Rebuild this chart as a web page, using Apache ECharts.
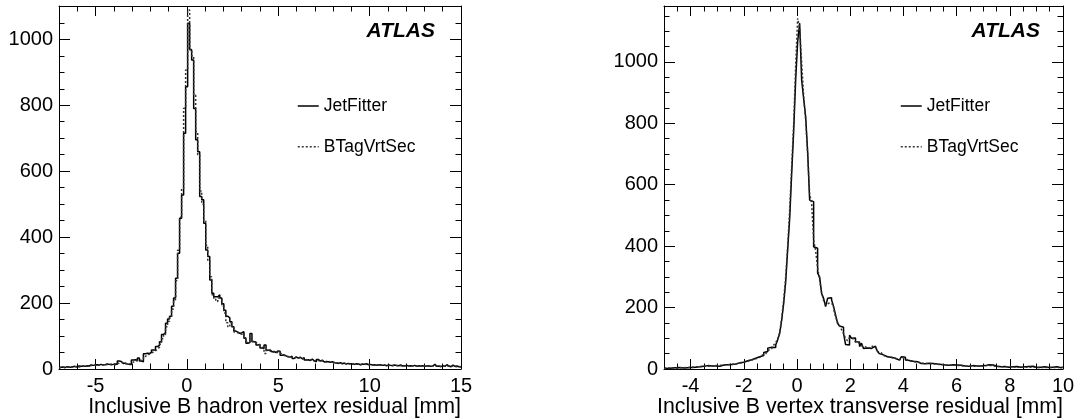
<!DOCTYPE html>
<html><head><meta charset="utf-8">
<script src="https://cdn.jsdelivr.net/npm/echarts@6/dist/echarts.min.js"></script>
<style>html,body{margin:0;padding:0;background:#fff}#c{width:1085px;height:420px}</style>
</head><body><div id="c"></div>
<script>
// ---------- data ----------
const seriesNames = ['JetFitter', 'BTagVrtSec'];
const xTitles = ['Inclusive B hadron vertex residual [mm]', 'Inclusive B vertex transverse residual [mm]'];
const experimentLabel = 'ATLAS';

// left panel histogram binning (200 bins)
const leftBinStart = -7, leftBinWidth = 0.11;
const leftXRange = [-7, 15];
const leftYMax = 1101;
const leftXTicks = [-5, 0, 5, 10, 15];
const leftJetFitter = [
  5,6,4,7,6,5,7,8,6,9,
  8,9,8,10,9,12,11,12,13,12,
  14,12,13,15,14,13,14,15,14,24,
  23,17,18,15,14,14,27,28,26,33,
  24,22,46,48,47,50,58,57,68,72,
  83,105,110,139,152,160,190,215,275,351,
  457,528,715,856,1049,968,937,790,695,659,
  523,513,442,361,341,270,230,219,219,225,
  215,198,178,160,155,143,128,115,112,108,
  110,113,93,78,80,108,83,82,73,74,
  64,62,73,57,58,52,53,50,55,54,
  42,43,40,37,36,39,32,37,33,36,
  31,34,27,28,26,30,25,22,29,24,
  27,21,23,22,20,22,19,18,17,19,
  16,18,15,17,16,15,14,16,15,13,
  15,14,16,13,14,12,13,11,12,13,
  11,12,10,12,11,10,12,11,10,12,
  9,10,11,9,10,9,11,8,10,9,
  10,8,9,10,8,9,14,8,9,7,
  10,8,13,9,7,12,8,9,7,6
];
const leftBTagVrtSec = [
  4,5,6,5,7,6,5,7,8,6,
  7,8,9,8,10,11,10,12,11,13,
  12,13,12,14,13,15,14,13,16,18,
  20,18,16,17,15,18,21,24,25,28,
  26,30,38,42,45,48,52,55,60,66,
  75,92,105,128,145,158,182,210,268,360,
  460,548,791,907,1089,970,950,830,720,650,
  540,500,450,375,330,280,225,212,205,215,
  210,190,170,140,128,140,125,112,110,106,
  105,108,95,80,78,92,84,80,76,72,
  66,62,47,56,55,50,52,49,51,50,
  44,41,40,38,35,36,34,35,33,34,
  30,32,29,27,28,27,24,25,26,23,
  25,22,21,23,21,20,20,19,18,18,
  17,17,16,16,15,16,15,14,15,14,
  14,15,13,14,13,13,12,12,13,12,
  11,11,12,11,10,11,11,10,11,10,
  10,9,10,10,9,10,9,9,9,10,
  9,9,8,9,9,8,10,8,8,8,
  9,8,9,8,7,9,8,7,8,7
];

// right panel histogram binning (200 bins)
const rightBinStart = -5, rightBinWidth = 0.075;
const rightXRange = [-5, 10];
const rightYMax = 1182;
const rightXTicks = [-4, -2, 0, 2, 4, 6, 8, 10];
const rightJetFitter = [
  3,2,4,3,2,4,3,5,4,3,
  5,4,6,5,7,6,8,7,10,9,
  8,11,9,10,8,10,11,9,12,13,
  12,14,13,15,13,16,18,20,24,22,
  24,27,29,30,33,35,36,40,42,44,
  54,57,68,71,72,70,78,95,116,160,
  214,284,390,490,637,775,941,1066,1126,941,
  880,822,708,550,545,398,393,312,300,246,
  230,203,230,232,225,203,176,149,140,136,
  116,80,78,110,100,101,89,88,73,84,
  67,68,66,67,73,74,72,57,50,46,
  45,40,41,38,35,35,33,29,28,40,
  38,29,28,24,25,23,24,22,18,19,
  17,18,19,17,18,17,16,18,15,14,
  13,14,12,13,14,12,13,11,12,10,
  10,11,9,10,11,9,10,8,10,9,
  11,13,14,12,13,12,9,8,7,9,
  8,7,6,8,7,6,8,7,6,5,
  7,6,8,7,9,6,5,7,6,5,
  7,6,5,4,6,5,7,5,4,6
];
const rightBTagVrtSec = [
  2,3,3,4,3,3,4,4,5,4,
  4,5,5,6,6,7,7,8,8,9,
  9,9,10,10,10,11,11,12,12,13,
  13,14,14,15,16,17,18,19,20,22,
  23,25,27,29,31,33,35,38,41,45,
  49,54,60,66,72,78,86,98,120,165,
  225,300,400,520,660,800,990,1142,1110,1000,
  890,810,700,570,540,420,385,330,290,250,
  222,210,215,220,210,195,170,152,140,128,
  115,100,92,102,98,93,88,84,80,76,
  72,70,68,66,75,70,64,58,52,48,
  44,41,39,37,35,34,32,30,29,36,
  34,30,27,25,24,23,22,21,20,19,
  18,18,17,17,16,16,15,15,14,14,
  14,13,13,12,12,12,11,11,11,10,
  10,10,10,9,9,9,9,9,9,9,
  10,11,12,11,10,9,8,8,8,7,
  7,7,7,7,6,6,6,6,6,6,
  6,6,7,6,6,6,5,5,5,5,
  5,5,5,5,5,5,5,5,5,5
];

// ---------- chart ----------
const FONT = '"Liberation Sans", Arial, Helvetica, sans-serif';
function stepPoints(start, width, vals) {
  const pts = vals.map((v, i) => [start + i * width, v]);
  pts.push([start + vals.length * width, vals[vals.length - 1]]);
  return pts;
}

const panels = [
  { grid: { left: 59, right: 624, top: 6, bottom: 51 }, xr: leftXRange, xticks: leftXTicks, xminor: 1, ymax: leftYMax,
    s: [stepPoints(leftBinStart, leftBinWidth, leftJetFitter), stepPoints(leftBinStart, leftBinWidth, leftBTagVrtSec)],
    title: xTitles[0], atlasRight: 650, legendLeft: 297 },
  { grid: { left: 664, right: 22, top: 6, bottom: 51 }, xr: rightXRange, xticks: rightXTicks, xminor: 0.5, ymax: rightYMax,
    s: [stepPoints(rightBinStart, rightBinWidth, rightJetFitter), stepPoints(rightBinStart, rightBinWidth, rightBTagVrtSec)],
    title: xTitles[1], atlasRight: 45, legendLeft: 900 }
];

const black = { color: '#000', width: 1 };
const grids = [], xAxes = [], yAxes = [], series = [], titles = [], legends = [];
panels.forEach((p, pi) => {
  grids.push(Object.assign({ containLabel: false }, p.grid));
  const xBase = { type: 'value', gridIndex: pi, min: p.xr[0], max: p.xr[1], splitLine: { show: false } };
  xAxes.push(Object.assign({}, xBase, {
    position: 'bottom',
    axisLine: { show: true, onZero: false, lineStyle: black },
    axisTick: { show: true, inside: true, length: 10, customValues: p.xticks, lineStyle: black },
    axisLabel: { show: true, customValues: p.xticks, fontSize: 20, color: '#000', fontFamily: FONT, margin: 7,
      formatter: v => String(v) },
    name: p.title, nameLocation: 'end', nameGap: 0,
    nameTextStyle: { align: 'right', verticalAlign: 'top', padding: [28, 0, 0, 0], fontSize: 21.3, color: '#000', fontFamily: FONT }
  }));
  xAxes.push(Object.assign({}, xBase, {
    position: 'bottom', interval: p.xminor,
    axisLine: { show: false, onZero: false }, axisLabel: { show: false },
    axisTick: { show: true, inside: true, length: 5.5, lineStyle: black }
  }));
  xAxes.push(Object.assign({}, xBase, {
    position: 'top',
    axisLine: { show: true, onZero: false, lineStyle: black }, axisLabel: { show: false },
    axisTick: { show: true, inside: true, length: 10, customValues: p.xticks, lineStyle: black }
  }));
  xAxes.push(Object.assign({}, xBase, {
    position: 'top', interval: p.xminor,
    axisLine: { show: false, onZero: false }, axisLabel: { show: false },
    axisTick: { show: true, inside: true, length: 5.5, lineStyle: black }
  }));
  const yBase = { type: 'value', gridIndex: pi, min: 0, max: p.ymax, splitLine: { show: false } };
  yAxes.push(Object.assign({}, yBase, {
    position: 'left', interval: 200,
    axisLine: { show: true, onZero: false, lineStyle: black },
    axisTick: { show: true, inside: true, length: 11, lineStyle: black },
    axisLabel: { show: true, showMaxLabel: false, fontSize: 20, color: '#000', fontFamily: FONT, margin: 6,
      formatter: v => String(v) }
  }));
  yAxes.push(Object.assign({}, yBase, {
    position: 'left', interval: 50,
    axisLine: { show: false, onZero: false }, axisLabel: { show: false },
    axisTick: { show: true, inside: true, length: 5.5, lineStyle: black }
  }));
  yAxes.push(Object.assign({}, yBase, {
    position: 'right', interval: 200,
    axisLine: { show: true, onZero: false, lineStyle: black }, axisLabel: { show: false },
    axisTick: { show: true, inside: true, length: 11, lineStyle: black }
  }));
  yAxes.push(Object.assign({}, yBase, {
    position: 'right', interval: 50,
    axisLine: { show: false, onZero: false }, axisLabel: { show: false },
    axisTick: { show: true, inside: true, length: 5.5, lineStyle: black }
  }));
  series.push({
    name: seriesNames[0], type: 'line', step: 'end', xAxisIndex: pi * 4, yAxisIndex: pi * 4,
    data: p.s[0], symbol: 'none', silent: true, z: 3,
    lineStyle: { color: '#000', width: 1.5, type: 'solid' }, itemStyle: { color: '#000' }
  });
  series.push({
    name: seriesNames[1], type: 'line', step: 'end', xAxisIndex: pi * 4, yAxisIndex: pi * 4,
    data: p.s[1], symbol: 'none', silent: true, z: 4,
    lineStyle: { color: '#333', width: 1.5, type: [2, 2] }, itemStyle: { color: '#333' }
  });
  titles.push({
    text: experimentLabel, right: p.atlasRight, top: 21, padding: 0,
    textStyle: { fontSize: 21, fontWeight: 'bold', fontStyle: 'italic', color: '#000', fontFamily: FONT }
  });
  legends.push({
    data: seriesNames, orient: 'vertical', left: p.legendLeft, top: 97, padding: 0,
    itemWidth: 21, itemHeight: 18, itemGap: 22.7, selectedMode: false,
    itemStyle: { opacity: 0 },
    lineStyle: { width: 1.5 },
    textStyle: { fontSize: 17.5, color: '#000', fontFamily: FONT, lineHeight: 18 }
  });
});

const chart = echarts.init(document.getElementById('c'), null, { renderer: 'canvas' });
chart.setOption({
  animation: false, backgroundColor: '#fff',
  grid: grids, xAxis: xAxes, yAxis: yAxes, series: series, title: titles, legend: legends
});
</script></body></html>
